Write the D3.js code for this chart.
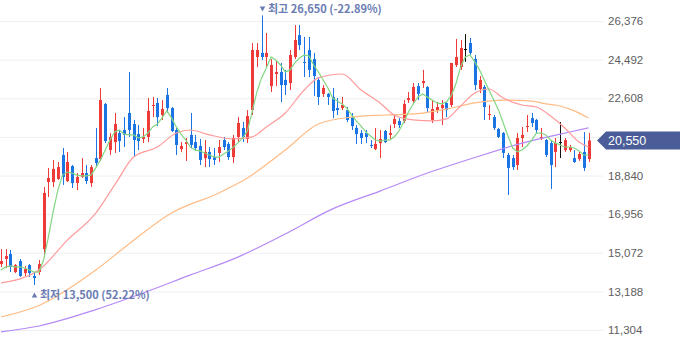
<!DOCTYPE html>
<html><head><meta charset="utf-8">
<script src="https://cdn.jsdelivr.net/npm/d3@7"></script>
<style>body{margin:0;background:#fff;} svg{display:block;}</style>
</head><body>
<svg id="chart" width="680" height="358"></svg>
<script>
const opens = [14520,14770,15010,14130,14670,14080,14470,13940,14130,15250,
18520,18520,18670,19840,18570,19300,18470,18770,18960,18470,
19690,19640,22330,20080,20470,20910,21060,21890,21350,20860,
20620,20720,22230,22380,21790,22770,22130,21060,20130,20380,
20820,20470,20280,19690,19990,19740,19940,20570,20380,19740,
20720,21160,20620,22030,24620,24820,24620,23200,23790,23890,
23500,23350,24620,25690,24380,24960,24520,23500,22820,22820,
22670,22130,22130,22030,21690,21160,20910,20910,20330,20130,
20420,21010,20820,21350,21500,21500,22520,22470,23200,23350,
23160,21550,22030,22130,22380,22280,24230,24130,25010,25300,
24520,23060,23160,21790,21690,21110,20910,19840,19690,19350,
20670,21210,21640,21550,20620,20570,20420,19990,20470,20080,
20080,19690,19640,19990,19640];
const highs = [15250,15250,15210,14520,14770,14420,14520,14130,14720,18280,
19210,19600,19500,20180,19990,19350,18960,19690,19350,19350,
21160,23110,22380,20910,21890,21060,21690,23890,21550,21300,
21160,22620,22670,22620,22520,23110,22180,21160,20470,20670,
21890,20820,20620,20570,20230,20180,20570,20720,20470,20820,
21690,21450,22030,25300,25300,26650,25790,24520,24470,24330,
23990,24960,26180,26180,25600,25600,24820,23640,23250,22860,
23110,22620,22670,22180,21890,21300,21060,21060,20570,21160,
21060,21060,21300,21790,21640,22520,22910,23350,23350,23990,
23200,22520,22420,22520,22420,24330,25500,25450,25740,25550,
24720,23690,23250,22280,21790,21160,20960,19940,19840,20910,
21210,21790,21890,21600,21160,20620,20570,20670,21450,20670,
20330,20080,19990,20960,20910];
const lows = [14380,14330,14130,14080,13890,13940,13890,13500,13990,14860,
17790,18280,18620,18380,18520,18230,18130,18720,18420,18280,
19250,19550,20420,19840,19940,19990,20230,20720,19740,20080,
20420,20470,21690,21250,21550,21890,20960,19840,19990,19550,
20180,20080,19350,19250,19250,19350,19500,20080,19600,19450,
20470,20470,20420,21790,24130,24470,24130,22910,23200,22420,
22770,23010,24520,24960,23640,23640,22720,22280,22670,22280,
21640,21790,22030,21450,21060,20380,20380,20420,20180,20080,
19690,20420,20620,21160,21160,21400,22380,22380,22520,23110,
21940,21400,21890,21300,21690,22180,24130,23990,24380,24720,
23010,22860,21550,21550,21060,20670,19690,17890,19110,19110,
20230,20960,21210,20910,20570,19740,18180,19250,19690,19990,
19990,19450,19550,19060,19500];
const closes = [14670,14910,14380,14470,13940,14280,14080,13840,14520,17990,
18720,19160,19250,18770,19500,18470,18770,18960,18570,19250,
19450,22520,20520,20720,21350,20520,20820,21060,20570,20520,
20720,21990,22280,21690,22080,22130,21010,20330,20280,20470,
20330,20180,19600,19990,19640,19600,20230,20230,19740,20670,
21400,20720,21740,24960,24960,24620,24820,24230,23890,23250,
23250,24720,25450,25200,24330,23990,23690,22670,23110,22670,
21990,22030,22280,21550,21250,20860,20670,20720,20280,20380,
20620,20470,20910,21600,21300,22330,22620,23160,22820,23450,
22130,22080,22180,22280,22030,24330,24620,25060,25010,24820,
23250,23500,22180,21840,21160,20720,19940,19210,19250,20670,
20820,21250,21400,21060,20720,19840,19350,20420,20470,20570,
20230,19500,19890,19210,20550];

// moving averages
const ma5 = [14230,14380,14430,14380,14380,14330,14230,14130,14130,14720,
15840,17060,18130,18860,19010,18960,18860,18820,18820,18860,
19210,19600,20080,20570,20960,21060,20860,20820,20820,20670,
20720,20910,21210,21350,21650,21990,21650,21210,20860,20570,
20210,20080,20040,19940,19840,19740,19740,19890,20040,20210,
20430,20670,21010,21940,22910,23600,24080,24620,24470,24230,
23890,23990,24330,24570,24720,24670,24230,23890,23500,23110,
22620,22470,22330,22130,21790,21500,21250,20960,20770,20570,
20520,20570,20570,20720,21010,21450,21940,22330,22670,22820,
22670,22520,22380,22330,22430,22720,23300,24130,24620,24720,
24380,23990,23500,23010,22520,22040,21400,20770,20180,19990,
20080,20280,20570,20910,20910,20820,20570,20430,20330,20230,
20230,20180,20040,19840,19840];
const ma20Idx = [0,8,14,20,24,28,33,37,40,44,49,53,56,60,64,67,72,76,80,83,87,91,94,97,100,103,106,110,113,116,119,122,124];
const ma20Val = [13600,14230,15690,17010,18380,19740,20230,20910,21060,20820,20620,20720,21210,21890,23010,23600,23790,23010,22380,21790,21550,21500,21600,22230,22860,23060,22620,22280,22180,21740,21160,20470,20230];
const ma60Idx = [0,8,20,27,36,46,52,60,67,74,81,88,94,100,106,112,115,118,121,124];
const ma60Val = [11940,12500,14230,15500,17010,17990,18720,20080,21350,21690,21790,21860,22080,22380,22520,22470,22330,22230,21990,21640];
const ma120Idx = [0,8,20,30,40,50,60,70,80,90,100,110,120,124];
const ma120Val = [11210,11500,12300,13110,13990,14860,15990,17210,18080,18960,19720,20420,20960,21160];

const yTicks = [26376,24492,22608,20724,18840,16956,15072,13188,11304];
const hiLabel = "최고", loLabel = "최저";

const loc = d3.formatLocale({decimal: ".", thousands: ",", grouping: [3], currency: ["", ""], minus: "-"});
const fmt = loc.format(","), pct = loc.format(".2%");

const svg = d3.select("#chart");
const x = d3.scaleLinear().domain([0, opens.length - 1]).range([1, 588.5]);
const y = d3.scaleLinear().domain([11304, 26376]).range([330, 21]);
const last = closes[closes.length - 1];
const yc = y(last);

// grid + right axis
const yAxis = d3.axisRight(y).tickValues(yTicks).tickSize(-603).tickPadding(5).tickFormat(fmt);
const gAxis = svg.append("g").attr("transform", "translate(603,0)").call(yAxis);
gAxis.select(".domain").remove();
gAxis.selectAll(".tick line").attr("stroke", "#eef0f3");
gAxis.selectAll(".tick text").attr("fill", "#5e5e5e")
  .style("font-family", "'Liberation Sans', Arial, sans-serif").style("font-size", "11.5px");
// tick label hidden behind the current-price tag
gAxis.selectAll(".tick text").filter(d => Math.abs(y(d) - yc) < 12).remove();

// candles
const data = d3.range(opens.length).map(i => ({i, o: opens[i], h: highs[i], l: lows[i], c: closes[i]}));
const col = d => d.c > d.o ? "#ef3a3a" : d.c < d.o ? "#1b74e4" : "#111";
const gc = svg.append("g");
gc.selectAll("line").data(data).join("line")
  .attr("x1", d => Math.round(x(d.i)) + 0.5).attr("x2", d => Math.round(x(d.i)) + 0.5)
  .attr("y1", d => y(d.h)).attr("y2", d => y(d.l))
  .attr("stroke", col).attr("stroke-width", 1);
gc.selectAll("rect").data(data).join("rect")
  .attr("x", d => Math.round(x(d.i)) - 1).attr("width", 3)
  .attr("y", d => y(Math.max(d.o, d.c)))
  .attr("height", d => Math.max(1, Math.abs(y(d.o) - y(d.c))))
  .attr("fill", col);

// moving averages
const lineC = d3.line().x(d => x(d[0])).y(d => y(d[1])).curve(d3.curveMonotoneX);
const lineL = d3.line().x(d => x(d[0])).y(d => y(d[1]));
const gm = svg.append("g").attr("fill", "none").attr("stroke-width", 1.2);
gm.append("path").attr("d", lineC(d3.zip(ma120Idx, ma120Val))).attr("stroke", "#b58af7");
gm.append("path").attr("d", lineC(d3.zip(ma60Idx, ma60Val))).attr("stroke", "#ffbb84");
gm.append("path").attr("d", lineC(d3.zip(ma20Idx, ma20Val))).attr("stroke", "#ff9b9b");
gm.append("path").attr("d", lineL(ma5.map((v, i) => [i, v]))).attr("stroke", "#82d682");

// high / low annotations
const hiI = d3.maxIndex(highs), loI = d3.minIndex(lows);
const annColor = "#6a7cb3";
const annFont = s => s.attr("fill", annColor).style("font-family", "'Noto Sans CJK KR', sans-serif")
  .style("font-size", "11px").style("font-weight", "700");
const hx = Math.round(x(hiI)) + 0.5, hy = y(highs[hiI]);
svg.append("path").attr("d", `M${hx-2.8},${hy-9} L${hx+2.8},${hy-9} L${hx},${hy-4} Z`).attr("fill", annColor);
svg.append("text").attr("x", hx + 5.5).attr("y", hy - 5.8).attr("dy", "0.35em").call(annFont)
  .text(`${hiLabel} ${fmt(highs[hiI])} (${pct((last - highs[hiI]) / highs[hiI])})`);
const lx = Math.round(x(loI)) + 0.5, ly = y(lows[loI]);
svg.append("path").attr("d", `M${lx-2.8},${ly+12.5} L${lx+2.8},${ly+12.5} L${lx},${ly+7.5} Z`).attr("fill", annColor);
svg.append("text").attr("x", lx + 5.5).attr("y", ly + 9.8).attr("dy", "0.35em").call(annFont)
  .text(`${loLabel} ${fmt(lows[loI])} (${pct((last - lows[loI]) / lows[loI])})`);

// current price tag
svg.append("path").attr("d", `M597,${yc} L606,${yc-9} L680,${yc-9} L680,${yc+9} L606,${yc+9} Z`).attr("fill", "#4a5d98");
svg.append("text").attr("x", 608).attr("y", yc).attr("dy", "0.36em").attr("fill", "#fff")
  .style("font-family", "'Liberation Sans', Arial, sans-serif").style("font-size", "12.5px")
  .text(fmt(last));
</script>
</body></html>
